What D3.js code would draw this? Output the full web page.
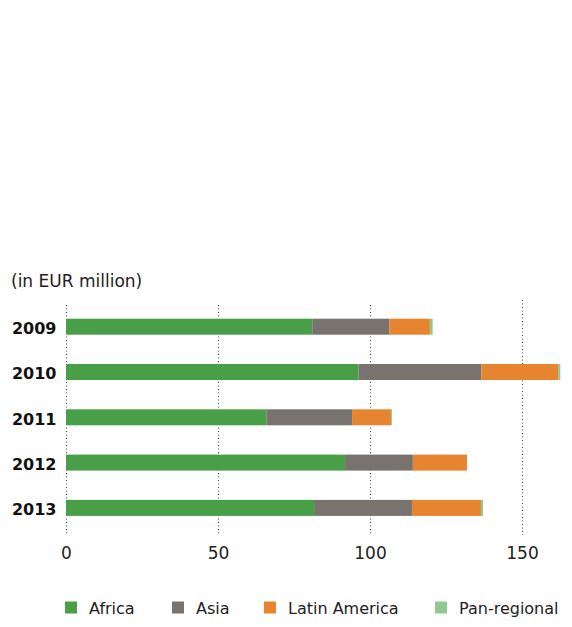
<!DOCTYPE html>
<html><head><meta charset="utf-8">
<script src="https://cdn.jsdelivr.net/npm/d3@7"></script>
<style>html,body{margin:0;padding:0;background:#fff;} svg{display:block;}</style>
</head><body>
<svg id="c" width="572" height="627"></svg>
<script>
const years = ["2009","2010","2011","2012","2013"];
const africa = [81.0, 96.2, 65.9, 91.8, 81.6];
const asia = [25.3, 40.4, 28.2, 22.3, 32.2];
const latinAmerica = [13.4, 25.3, 12.8, 17.8, 22.7];
const panRegional = [0.9, 0.7, 0.3, 0, 0.7];
const tickValues = [0, 50, 100, 150];
const seriesNames = ["Africa", "Asia", "Latin America", "Pan-regional"];
const seriesColors = ["#499e48", "#78736f", "#e6842f", "#92c692"];
const unitLabel = "(in EUR million)";

const rows = years.map((y, i) => ({year: y, Africa: africa[i], Asia: asia[i], "Latin America": latinAmerica[i], "Pan-regional": panRegional[i]}));
const stack = d3.stack().keys(seriesNames)(rows);

const svg = d3.select("#c");
const font = "DejaVu Sans, sans-serif";
const x = d3.scaleLinear().domain([0, 150]).range([66, 522]);
const y = d3.scalePoint().domain(years).range([326.7, 507.9]);
const barH = 16;
const color = d3.scaleOrdinal().domain(seriesNames).range(seriesColors);

// title
svg.append("text").attr("x", 11).attr("y", 286.5).text(unitLabel)
  .attr("font-family", font).attr("font-size", 17).attr("fill", "#222");

// gridlines
svg.append("g").selectAll("line").data(tickValues).join("line")
  .attr("x1", d => Math.round(x(d)) + 0.5).attr("x2", d => Math.round(x(d)) + 0.5)
  .attr("y1", d => d === 150 ? 300 : 305).attr("y2", 535)
  .attr("stroke", "#444").attr("stroke-width", 1).attr("stroke-dasharray", "1,2.5");

// bars
svg.append("g").selectAll("g").data(stack).join("g")
  .attr("fill", d => color(d.key))
  .selectAll("rect").data(d => d).join("rect")
  .attr("x", d => x(d[0])).attr("width", d => Math.max(0, x(d[1]) - x(d[0])))
  .attr("y", d => y(d.data.year) - barH / 2).attr("height", barH);

// year labels
svg.append("g").selectAll("text").data(years).join("text")
  .attr("x", 56.5).attr("y", d => y(d) + 7.3).attr("text-anchor", "end")
  .attr("font-family", font).attr("font-weight", "bold").attr("font-size", 16).attr("fill", "#111")
  .text(d => d);

// x axis labels
const axis = d3.axisBottom(x).tickValues(tickValues).tickSize(0).tickPadding(0);
const ag = svg.append("g").attr("transform", "translate(0,546)").call(axis);
ag.select(".domain").remove();
ag.selectAll("text").attr("font-family", font).attr("font-size", 17).attr("fill", "#222").attr("dy", "0.75em");

// legend
const legX = [65, 172, 264, 435];
const lg = svg.append("g").selectAll("g").data(seriesNames).join("g")
  .attr("transform", (d, i) => `translate(${legX[i]},601.5)`);
lg.append("rect").attr("width", 12).attr("height", 12).attr("fill", d => color(d));
lg.append("text").attr("x", 24).attr("y", 12.5).text(d => d)
  .attr("font-family", font).attr("font-size", 16).attr("fill", "#222");
</script>
</body></html>
